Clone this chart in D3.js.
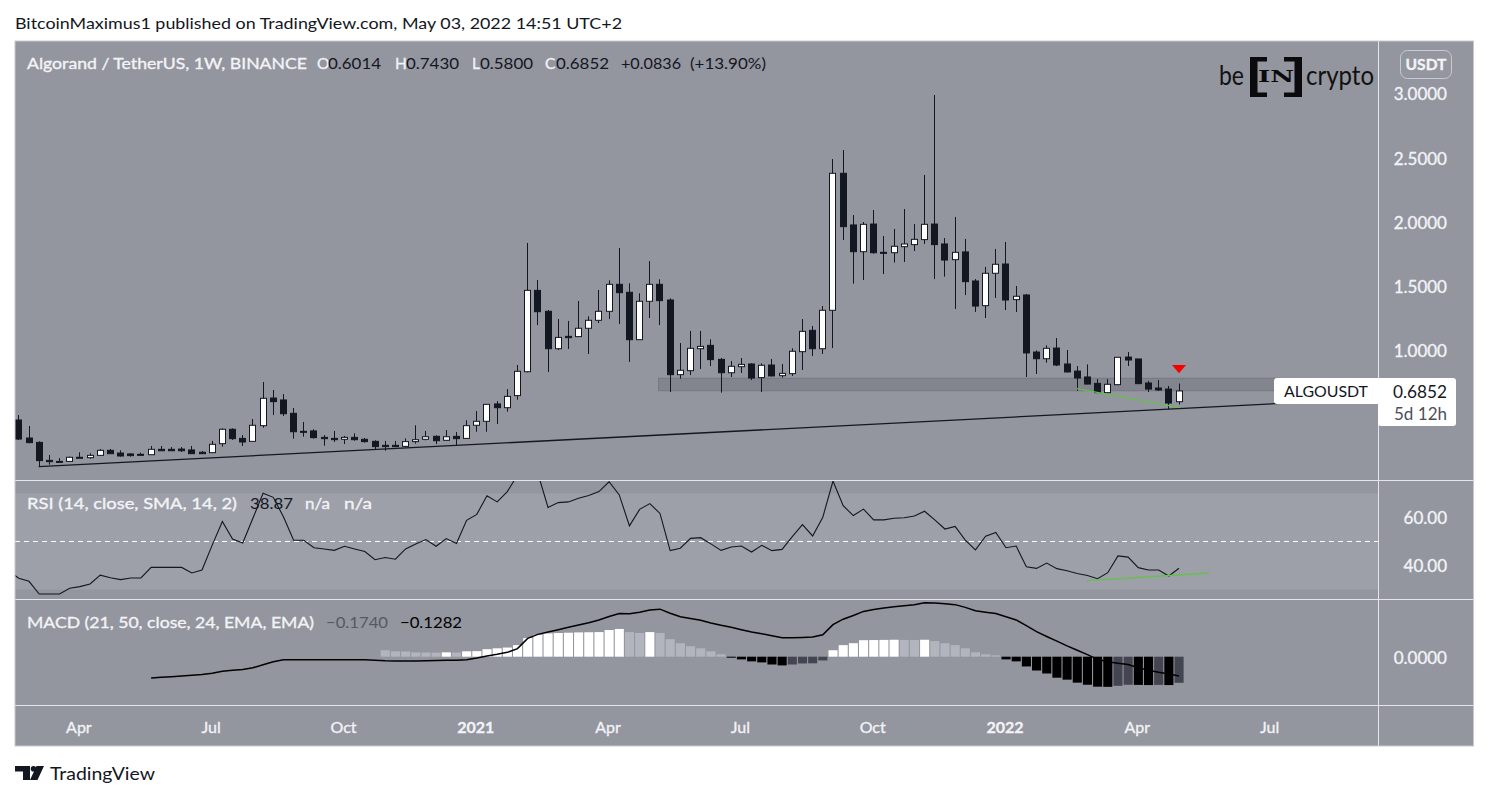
<!DOCTYPE html>
<html>
<head>
<meta charset="utf-8">
<script src="https://cdnjs.cloudflare.com/ajax/libs/d3/7.8.5/d3.min.js"></script>
<style>html,body{margin:0;padding:0;background:#fff}svg{display:block}text{font-family:Lato,"Open Sans",sans-serif}</style>
</head>
<body>
<svg id="c" width="1489" height="800"></svg>
<script>
const opens=[0.459,0.319,0.285,0.145,0.137,0.137,0.169,0.166,0.184,0.223,0.202,0.195,0.192,0.189,0.231,0.231,0.233,0.226,0.208,0.205,0.275,0.387,0.316,0.293,0.415,0.630,0.615,0.511,0.371,0.374,0.324,0.316,0.309,0.324,0.309,0.293,0.262,0.262,0.254,0.291,0.309,0.332,0.301,0.332,0.316,0.418,0.449,0.584,0.555,0.649,0.835,1.468,1.305,1.014,1.110,1.108,1.173,1.235,1.305,1.515,1.453,1.084,1.383,1.515,1.393,0.812,0.843,1.014,1.040,0.931,0.827,0.874,0.895,0.789,0.887,0.804,0.820,0.991,1.157,1.014,1.313,2.379,1.977,1.769,1.984,1.764,1.761,1.808,1.824,1.863,1.984,1.829,1.707,1.767,1.541,1.349,1.601,1.673,1.396,1.432,0.988,0.936,1.019,0.895,0.840,0.794,0.744,0.672,0.734,0.949,0.934,0.747,0.708,0.700,0.6014];
const highs=[0.498,0.412,0.293,0.187,0.163,0.174,0.208,0.200,0.233,0.233,0.223,0.200,0.205,0.257,0.257,0.249,0.249,0.257,0.218,0.296,0.394,0.394,0.342,0.467,0.755,0.693,0.661,0.553,0.444,0.387,0.342,0.374,0.335,0.355,0.319,0.301,0.296,0.296,0.316,0.418,0.374,0.340,0.381,0.366,0.457,0.529,0.581,0.607,0.700,0.887,1.837,1.549,1.315,1.245,1.230,1.385,1.266,1.471,1.546,1.798,1.523,1.445,1.696,1.554,1.406,1.058,1.152,1.152,1.087,0.942,0.918,0.942,0.900,0.900,0.934,0.895,1.017,1.245,1.191,1.346,2.490,2.560,2.054,2.000,2.093,1.891,1.946,2.101,1.984,2.366,2.988,1.875,2.039,1.868,1.556,1.650,1.790,1.844,1.502,1.440,1.001,1.040,1.097,1.004,0.879,0.892,0.778,0.778,0.949,0.988,0.934,0.763,0.770,0.724,0.7430];
const lows=[0.304,0.278,0.096,0.112,0.132,0.132,0.166,0.158,0.179,0.195,0.174,0.174,0.182,0.187,0.218,0.218,0.210,0.195,0.195,0.202,0.252,0.304,0.257,0.291,0.399,0.498,0.490,0.314,0.329,0.314,0.259,0.288,0.272,0.298,0.283,0.231,0.220,0.249,0.249,0.275,0.301,0.272,0.296,0.259,0.314,0.368,0.368,0.428,0.524,0.617,0.830,1.198,0.833,1.004,1.012,1.105,0.973,1.214,1.245,1.206,0.911,1.082,1.253,1.198,0.677,0.781,0.809,0.856,0.879,0.672,0.794,0.825,0.770,0.677,0.799,0.789,0.802,0.848,0.957,0.973,1.019,1.860,1.520,1.549,1.754,1.595,1.684,1.689,1.774,1.829,1.556,1.575,1.323,1.432,1.300,1.253,1.409,1.315,1.300,0.794,0.817,0.905,0.879,0.830,0.687,0.737,0.669,0.669,0.732,0.879,0.739,0.677,0.685,0.542,0.5800];
const closes=[0.311,0.283,0.143,0.135,0.135,0.169,0.166,0.184,0.223,0.197,0.179,0.182,0.187,0.231,0.220,0.220,0.220,0.197,0.197,0.270,0.387,0.314,0.288,0.418,0.628,0.602,0.508,0.368,0.368,0.322,0.314,0.306,0.324,0.306,0.291,0.252,0.252,0.252,0.291,0.306,0.329,0.298,0.329,0.314,0.415,0.449,0.581,0.555,0.643,0.838,1.468,1.302,1.014,1.102,1.100,1.173,1.235,1.305,1.515,1.450,1.084,1.383,1.515,1.388,0.812,0.846,1.017,1.032,0.929,0.827,0.877,0.892,0.786,0.885,0.802,0.822,0.994,1.149,1.014,1.313,2.379,1.964,1.769,1.982,1.761,1.761,1.811,1.829,1.865,1.982,1.824,1.704,1.764,1.536,1.346,1.601,1.671,1.393,1.422,0.981,0.936,1.017,0.887,0.833,0.786,0.739,0.672,0.737,0.947,0.926,0.742,0.700,0.693,0.591,0.6852];

const rsiBefore=37.7;
const rsi=[34.7,33.4,28.1,28.1,28.1,30.5,31.2,32.3,36.0,34.9,34.1,34.8,34.8,39.2,39.2,39.2,39.2,36.9,38.1,48.5,58.3,51.0,49.4,59.7,70.1,68.4,60.3,50.5,50.5,47.4,46.9,46.3,48.0,46.9,45.8,42.4,43.3,42.6,46.9,49.0,50.8,48.0,51.2,49.2,58.8,61.3,69.1,66.5,70.8,77.7,86.7,78.4,64.2,66.2,66.5,68.0,69.2,70.8,74.9,69.4,56.5,63.4,65.8,61.7,46.2,47.2,51.3,51.6,49.0,46.3,47.7,48.1,45.6,48.4,46.2,46.7,52.0,57.0,52.3,60.1,75.2,64.9,60.8,63.5,59.0,59.0,59.7,59.9,60.6,62.6,59.0,55.2,56.3,50.6,46.5,52.2,53.8,47.4,48.1,39.5,38.8,41.0,38.7,37.8,36.7,35.8,34.5,37.0,44.0,43.5,39.1,38.1,38.1,35.6,38.87];

const macdLine=[null,null,null,null,null,null,null,null,null,null,null,null,null,-0.142,-0.137,-0.133,-0.128,-0.124,-0.119,-0.110,-0.097,-0.090,-0.086,-0.074,-0.054,-0.034,-0.020,-0.020,-0.020,-0.020,-0.020,-0.020,-0.020,-0.020,-0.020,-0.023,-0.027,-0.029,-0.029,-0.029,-0.027,-0.025,-0.023,-0.023,-0.020,-0.009,0.005,0.016,0.029,0.054,0.122,0.149,0.164,0.180,0.196,0.212,0.227,0.245,0.268,0.288,0.286,0.297,0.311,0.317,0.290,0.266,0.254,0.243,0.225,0.209,0.196,0.180,0.164,0.153,0.140,0.126,0.126,0.128,0.131,0.146,0.214,0.250,0.275,0.302,0.315,0.324,0.333,0.340,0.347,0.360,0.358,0.353,0.347,0.329,0.306,0.297,0.288,0.266,0.245,0.207,0.167,0.135,0.104,0.072,0.043,0.014,-0.018,-0.034,-0.043,-0.052,-0.074,-0.090,-0.104,-0.115,-0.1282];

const macdHist=[null,null,null,null,null,null,null,null,null,null,null,null,null,null,null,null,null,null,null,null,null,null,null,null,null,null,null,null,null,null,null,null,null,null,null,null,0.043,0.036,0.035,0.029,0.028,0.027,0.029,0.028,0.036,0.037,0.050,0.056,0.061,0.077,0.124,0.146,0.155,0.158,0.160,0.162,0.163,0.164,0.178,0.185,0.164,0.158,0.164,0.158,0.117,0.090,0.070,0.056,0.036,0.016,-0.003,-0.018,-0.031,-0.038,-0.052,-0.058,-0.052,-0.045,-0.044,-0.025,0.043,0.077,0.090,0.110,0.111,0.112,0.113,0.112,0.111,0.113,0.104,0.090,0.077,0.056,0.029,0.016,0.009,-0.018,-0.031,-0.065,-0.092,-0.112,-0.140,-0.153,-0.173,-0.187,-0.200,-0.201,-0.194,-0.187,-0.188,-0.189,-0.188,-0.189,-0.174];

const priceTicks=[1,1.5,2,2.5,3];
const rsiTicks=[40,60];
const macdTicks=[0];
const timeTicks=["2020-04-06","2020-07-06","2020-10-05","2021-01-04","2021-04-05","2021-07-05","2021-10-04","2022-01-03","2022-04-04","2022-07-04"];
const timeLabels=["Apr","Jul","Oct","2021","Apr","Jul","Oct","2022","Apr","Jul"];
const firstWeek="2020-02-24";
const trendDates=["2020-03-09","2022-07-11"], trendPrices=[0.096,0.588];
const greenDates=["2022-02-21","2022-05-03"], greenPrices=[0.703,0.555];
const rsiGreenDates=["2022-02-28","2022-05-23"], rsiGreenValues=[33.7,36.9];
const zoneDates=["2021-05-10","2022-07-11"], zonePrices=[0.784,0.687];
const arrowDate="2022-05-02", arrowPrices=[0.887,0.823];

const BG="#93959f",BAND="#9d9fa9",SEP="#e4e6ec",FRAME="#c8cad0",LT="#f2f3f6",DK="#131722";
const L=15,R=1378,RIGHT=1473.5,T=41,B=746;
const svg=d3.select("#c");
const date=s=>new Date(s+"T00:00:00Z");
const weeks=closes.map((_,i)=>d3.utcWeek.offset(date(firstWeek),i));
const x=d3.scaleUtc().domain([weeks[0],weeks[weeks.length-1]]).range([18.33,1178.5]);
const yP=d3.scaleLinear().domain([0,3]).range([479,93.5]);
const yR=d3.scaleLinear().domain([40,60]).range([565.5,517.5]);
const yM=d3.scaleLinear().domain([-1,1]).range([656.7+150,656.7-150]);

svg.append("rect").attr("x",L).attr("y",T).attr("width",RIGHT-L).attr("height",B-T).attr("fill",BG);
const defs=svg.append("defs");
function clip(id,y0,y1){defs.append("clipPath").attr("id",id).append("rect").attr("x",L).attr("y",y0).attr("width",R-L).attr("height",y1-y0);}
clip("cm",T,480);clip("cr",481,599);clip("cd",600,705);

function txt(px,py,s,o={}){
  const fill=o.fill||LT;
  const t=svg.append("text").attr("x",px).attr("y",py).attr("dy","0.35em").attr("fill",fill)
    .attr("font-size",o.size||15.5).attr("font-weight",o.weight||400).attr("text-anchor",o.anchor||"start").text(s);
  if(!o.fill)t.attr("stroke",fill).attr("stroke-width",0.35);
  if(o.len)t.attr("textLength",o.len).attr("lengthAdjust","spacingAndGlyphs");
  if(o.family)t.style("font-family",o.family);
  return t;
}

// RSI band
svg.append("rect").attr("x",L).attr("y",yR(70)).attr("width",R-L).attr("height",yR(30)-yR(70)).attr("fill",BAND);

// Pane legends
txt(27,64,"Algorand / TetherUS, 1W, BINANCE",{len:280});
[["O","0.6014",317,328],["H","0.7430",395,406],["L","0.5800",472,480],["C","0.6852",545,556]].forEach(d=>{
  txt(d[2],64,d[0]);
  txt(d[3],64,d[1],{fill:DK,len:53});
});
txt(621,64,"+0.0836",{fill:DK,len:60});
txt(690,64,"(+13.90%)",{fill:DK,len:76});
txt(27,504,"RSI (14, close, SMA, 14, 2)",{len:210});
txt(250,504,"38.87",{fill:DK,len:43});
txt(305,504,"n/a",{len:25});
txt(344,504,"n/a",{len:28});
txt(27,623,"MACD (21, 50, close, 24, EMA, EMA)",{len:287});
txt(326,623,"\u22120.1740",{fill:"#565964",len:62});
txt(400,623,"\u22120.1282",{fill:"#000",len:62});

// Main pane
const main=svg.append("g").attr("clip-path","url(#cm)");
main.append("rect").attr("x",x(date(zoneDates[0]))-1).attr("y",yP(zonePrices[0]))
  .attr("width",x(date(zoneDates[1]))-x(date(zoneDates[0]))).attr("height",yP(zonePrices[1])-yP(zonePrices[0]))
  .attr("fill","#82848e").attr("stroke","#767882").attr("stroke-width",1);
const lineP=d3.line().x(d=>x(date(d[0]))).y(d=>yP(d[1]));
main.append("path").attr("d",lineP(d3.zip(trendDates,trendPrices))).attr("fill","none").attr("stroke",DK).attr("stroke-width",1.3);

const candles=closes.map((c,i)=>({t:weeks[i],o:opens[i],h:highs[i],l:lows[i],c}));
main.selectAll("line.w").data(candles).join("line").attr("class","w")
  .attr("x1",d=>Math.round(x(d.t))+.5).attr("x2",d=>Math.round(x(d.t))+.5)
  .attr("y1",d=>yP(d.h)).attr("y2",d=>yP(d.l)).attr("stroke",DK).attr("stroke-width",1);
main.selectAll("rect.b").data(candles).join("rect").attr("class","b")
  .attr("x",d=>Math.round(x(d.t))-2.5).attr("width",6)
  .attr("y",d=>Math.min(yP(d.o),yP(d.c)))
  .attr("height",d=>Math.max(1,Math.abs(yP(d.o)-yP(d.c))))
  .attr("fill",d=>d.c>=d.o?"#fff":DK).attr("stroke",DK).attr("stroke-width",1);
main.append("path").attr("d",lineP(d3.zip(greenDates,greenPrices))).attr("fill","none").attr("stroke","#66c04c").attr("stroke-width",1.4);
{
  const p=d3.path(),ax=x(date(arrowDate))+.5;
  p.moveTo(ax-7,yP(arrowPrices[0]));p.lineTo(ax+7,yP(arrowPrices[0]));p.lineTo(ax,yP(arrowPrices[1]));p.closePath();
  main.append("path").attr("d",p.toString()).attr("fill","#f50000");
}

// RSI pane
const rp=svg.append("g").attr("clip-path","url(#cr)");
rp.append("line").attr("x1",L).attr("x2",R).attr("y1",yR(50)).attr("y2",yR(50)).attr("stroke","#fff").attr("stroke-dasharray","5 4");
const rsiPts=[[d3.utcWeek.offset(weeks[0],-1),rsiBefore]].concat(rsi.map((v,i)=>[weeks[i],v]));
rp.append("path").attr("d",d3.line().x(d=>x(d[0])+.5).y(d=>yR(d[1]))(rsiPts)).attr("fill","none").attr("stroke",DK).attr("stroke-width",1.1);
rp.append("path").attr("d",d3.line().x(d=>x(date(d[0]))).y(d=>yR(d[1]))(d3.zip(rsiGreenDates,rsiGreenValues))).attr("fill","none").attr("stroke","#66c04c").attr("stroke-width",1.4);

// MACD pane
const mp=svg.append("g").attr("clip-path","url(#cd)");
const hist=macdHist.map((v,i)=>({t:weeks[i],v,p:i?macdHist[i-1]:null})).filter(d=>d.v!==null);
const tone=d=>{const up=d.p!==null&&d.v>=d.p;return d.v>=0?(up?"#ffffff":"#b2b5be"):(up?"#434651":"#000000");};
mp.selectAll("rect").data(hist).join("rect")
  .attr("x",d=>x(d.t)-4).attr("width",9.1)
  .attr("y",d=>Math.min(yM(0),yM(d.v))).attr("height",d=>Math.max(1,Math.abs(yM(d.v)-yM(0))))
  .attr("fill",tone);
mp.append("path").attr("d",d3.line().defined(d=>d!==null).x((d,i)=>x(weeks[i])+.5).y(d=>yM(d))(macdLine)).attr("fill","none").attr("stroke","#000").attr("stroke-width",1.5);

// Separators and frame
[480.5,599.5,705.5].forEach(v=>svg.append("line").attr("x1",L).attr("x2",RIGHT).attr("y1",v).attr("y2",v).attr("stroke",SEP));
svg.append("line").attr("x1",R+.5).attr("x2",R+.5).attr("y1",T).attr("y2",B).attr("stroke",SEP);
svg.append("rect").attr("x",L).attr("y",T).attr("width",RIGHT-L).attr("height",B-T).attr("fill","none").attr("stroke",FRAME);

// Axes
function styleAxis(g,sz,w){g.select(".domain").remove();g.selectAll("line").remove();
  g.selectAll("text").attr("fill",LT).attr("stroke",LT).attr("stroke-width",0.35).attr("font-size",sz).attr("font-weight",w||400).style("font-family",'Lato,"Open Sans",sans-serif');}
function priceAxis(scale,ticks,fmt){
  svg.append("g").attr("transform","translate(1447,1)")
    .call(d3.axisRight(scale).tickValues(ticks).tickSize(0).tickPadding(0).tickFormat(d3.format(fmt))).call(styleAxis,17)
    .selectAll("text").attr("text-anchor","end");
}
priceAxis(yP,priceTicks,".4f");
priceAxis(yR,rsiTicks,".2f");
priceAxis(yM,macdTicks,".4f");
const tDates=timeTicks.map(date);
const xa=svg.append("g").attr("transform","translate(-1,727)")
  .call(d3.axisBottom(x).tickValues(tDates).tickSize(0).tickPadding(0).tickFormat((d,i)=>timeLabels[i])).call(styleAxis,16);
xa.selectAll("text").attr("dy","0.35em").attr("y",0).attr("font-weight",(d,i)=>timeLabels[i].length>3?700:400);

// USDT button
svg.append("rect").attr("x",1400.5).attr("y",50.5).attr("width",51).attr("height",28).attr("rx",7).attr("fill","none").attr("stroke","#c9cbd2");
txt(1426,64.5,"USDT",{anchor:"middle",size:15.5,weight:700,len:41});

// Last price label
svg.append("rect").attr("x",1274).attr("y",378).attr("width",110).attr("height",26).attr("rx",3).attr("fill","#fff");
svg.append("rect").attr("x",1378).attr("y",378).attr("width",78).attr("height",48).attr("rx",3).attr("fill","#fff");
txt(1284,392,"ALGOUSDT",{fill:DK,size:15.5,len:84});
txt(1447,392,"0.6852",{fill:DK,size:16.5,anchor:"end",len:54});
txt(1447,414,"5d 12h",{fill:"#4c4f5a",size:16.5,anchor:"end",len:53});

// BeInCrypto logo
txt(1219,76,"be",{fill:"#111",size:27,len:25});
txt(1306,76,"crypto",{fill:"#111",size:27,len:68});
svg.append("path").attr("fill","#0b0b0d")
  .attr("d","M1250 57H1267V61.5H1257.5V92.5H1267V97H1250ZM1302 57H1284V61.5H1294.5V92.5H1284V97H1302Z");
txt(1276,76.5,"IN",{fill:"#0b0b0d",size:17,weight:700,anchor:"middle",family:'"DejaVu Serif",serif',len:36});

// Header & footer
txt(15,23,"BitcoinMaximus1 published on TradingView.com, May 03, 2022 14:51 UTC+2",{fill:DK,size:16,len:607});
svg.append("path").attr("fill",DK).attr("d","M15 766H30V780H23V771.5H15ZM44 766L37.5 780H30L36.5 766Z");
svg.append("circle").attr("cx",33.5).attr("cy",768.8).attr("r",2.8).attr("fill",DK);
txt(50,774,"TradingView",{fill:DK,size:18,len:105});
</script>
</body>
</html>
